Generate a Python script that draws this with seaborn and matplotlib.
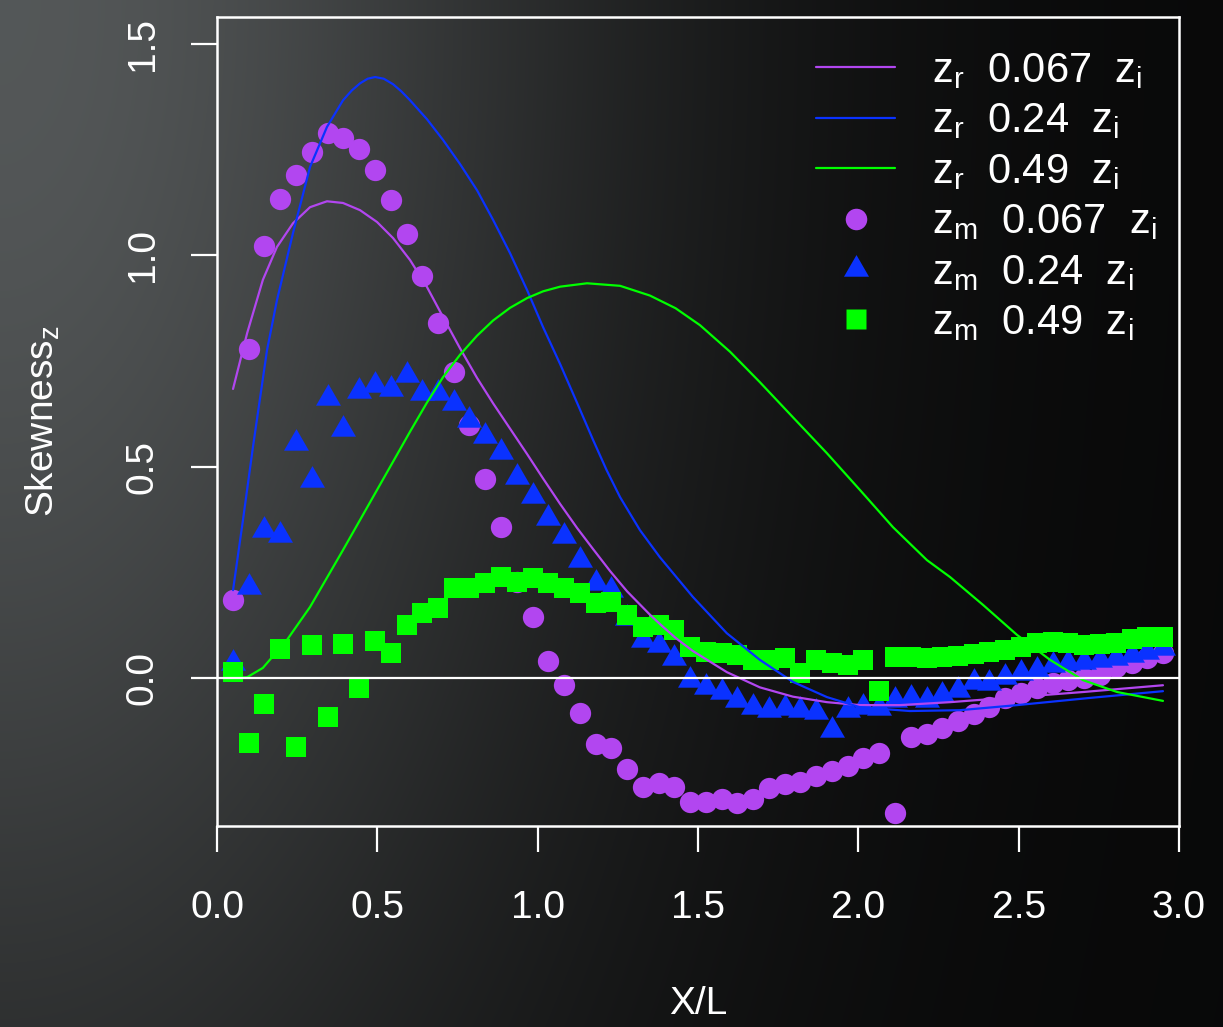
import numpy as np
import matplotlib
matplotlib.use("Agg")
import matplotlib.pyplot as plt
from matplotlib.path import Path
from matplotlib.lines import Line2D
import seaborn as sns

# ---------------- data ----------------
# measurement stations X/L (shared by the three point series)
x_meas = [0.050, 0.099, 0.148, 0.197, 0.247, 0.296, 0.345, 0.394, 0.443, 0.492,
          0.542, 0.591, 0.640, 0.689, 0.738, 0.787, 0.836, 0.886, 0.935, 0.984,
          1.033, 1.082, 1.131, 1.181, 1.230, 1.279, 1.328, 1.377, 1.426, 1.475,
          1.525, 1.574, 1.623, 1.672, 1.721, 1.770, 1.819, 1.869, 1.918, 1.967,
          2.016, 2.065, 2.114, 2.164, 2.213, 2.262, 2.311, 2.360, 2.409, 2.458,
          2.508, 2.557, 2.606, 2.655, 2.704, 2.753, 2.803, 2.852, 2.901, 2.950]

zm_067 = [0.185, 0.778, 1.022, 1.133, 1.190, 1.244, 1.289, 1.277, 1.251, 1.202,
          1.131, 1.050, 0.951, 0.840, 0.724, 0.599, 0.471, 0.357, 0.227, 0.144,
          0.040, -0.017, -0.083, -0.156, -0.166, -0.215, -0.258, -0.248, -0.258, -0.293,
          -0.293, -0.286, -0.296, -0.286, -0.260, -0.251, -0.246, -0.232, -0.220, -0.208,
          -0.189, -0.177, -0.319, -0.140, -0.132, -0.118, -0.102, -0.085, -0.069, -0.047,
          -0.035, -0.024, -0.012, -0.005, 0.000, 0.007, 0.026, 0.035, 0.047, 0.059]

zm_024 = [0.035, 0.215, 0.350, 0.338, 0.556, 0.468, 0.662, 0.589, 0.679, 0.693,
          0.684, 0.717, 0.674, 0.674, 0.651, 0.610, 0.573, 0.535, 0.476, 0.431,
          0.379, 0.336, 0.279, 0.225, 0.208, 0.142, 0.090, 0.078, 0.047, -0.005,
          -0.021, -0.033, -0.052, -0.069, -0.076, -0.071, -0.076, -0.080, -0.123, -0.076,
          -0.069, -0.071, -0.052, -0.047, -0.052, -0.040, -0.028, -0.009, -0.012, 0.002,
          0.012, 0.019, 0.031, 0.035, 0.038, 0.043, 0.047, 0.054, 0.062, 0.071]

zm_049 = [0.014, -0.154, -0.062, 0.069, -0.163, 0.078, -0.092, 0.080, -0.024, 0.088,
          0.059, 0.125, 0.154, 0.166, 0.213, 0.213, 0.225, 0.239, 0.227, 0.237,
          0.225, 0.213, 0.201, 0.177, 0.180, 0.149, 0.121, 0.125, 0.114, 0.073,
          0.062, 0.059, 0.054, 0.043, 0.043, 0.047, 0.012, 0.043, 0.035, 0.031,
          0.042, -0.030, 0.051, 0.050, 0.047, 0.050, 0.052, 0.057, 0.062, 0.066,
          0.073, 0.083, 0.085, 0.083, 0.078, 0.080, 0.083, 0.092, 0.097, 0.097]

# model curves
zr067_x = [0.050, 0.094, 0.143, 0.187, 0.237, 0.290, 0.343, 0.393, 0.446, 0.499,
           0.549, 0.602, 0.655, 0.705, 0.758, 0.811, 0.861, 0.914, 0.967, 1.017,
           1.070, 1.123, 1.173, 1.226, 1.279, 1.350, 1.381, 1.430, 1.484, 1.590,
           1.693, 1.796, 1.902, 2.005, 2.130, 2.286, 2.495, 2.701, 2.950]
zr067_y = [0.684, 0.816, 0.942, 1.020, 1.076, 1.114, 1.128, 1.124, 1.107, 1.079,
           1.041, 0.989, 0.925, 0.854, 0.780, 0.710, 0.650, 0.590, 0.530, 0.472,
           0.412, 0.355, 0.305, 0.253, 0.205, 0.150, 0.128, 0.095, 0.064, 0.014,
           -0.022, -0.044, -0.057, -0.064, -0.064, -0.057, -0.045, -0.033, -0.017]

zr024_x = [0.050, 0.081, 0.112, 0.156, 0.187, 0.237, 0.290, 0.343, 0.393, 0.420,
           0.446, 0.470, 0.493, 0.520, 0.549, 0.575, 0.602, 0.655, 0.705, 0.758,
           0.811, 0.861, 0.914, 0.967, 1.017, 1.070, 1.123, 1.173, 1.215, 1.257,
           1.319, 1.381, 1.484, 1.590, 1.693, 1.796, 1.902, 2.005, 2.161, 2.317,
           2.495, 2.722, 2.950]
zr024_y = [0.208, 0.374, 0.546, 0.776, 0.894, 1.053, 1.209, 1.304, 1.367, 1.390,
           1.407, 1.418, 1.422, 1.418, 1.405, 1.388, 1.367, 1.322, 1.273, 1.216,
           1.154, 1.084, 1.005, 0.918, 0.830, 0.743, 0.651, 0.563, 0.492, 0.428,
           0.350, 0.286, 0.192, 0.106, 0.043, -0.009, -0.045, -0.069, -0.078, -0.076,
           -0.064, -0.047, -0.031]

zr049_x = [0.050, 0.094, 0.143, 0.218, 0.290, 0.393, 0.499, 0.561, 0.602, 0.655,
           0.705, 0.758, 0.811, 0.861, 0.914, 0.967, 1.017, 1.070, 1.154, 1.257,
           1.350, 1.430, 1.506, 1.600, 1.693, 1.796, 1.902, 2.005, 2.108, 2.214,
           2.286, 2.389, 2.495, 2.598, 2.701, 2.807, 2.950]
zr049_y = [0.000, 0.002, 0.024, 0.090, 0.168, 0.303, 0.445, 0.528, 0.583, 0.652,
           0.712, 0.765, 0.810, 0.846, 0.876, 0.899, 0.915, 0.926, 0.934, 0.928,
           0.905, 0.875, 0.835, 0.772, 0.700, 0.617, 0.532, 0.445, 0.357, 0.279,
           0.239, 0.173, 0.102, 0.043, -0.005, -0.033, -0.054]

x_ticks = [0.0, 0.5, 1.0, 1.5, 2.0, 2.5, 3.0]
x_tick_labels = ["0.0", "0.5", "1.0", "1.5", "2.0", "2.5", "3.0"]
y_ticks = [0.0, 0.5, 1.0, 1.5]
y_tick_labels = ["0.0", "0.5", "1.0", "1.5"]

labels = [r"$\mathregular{z_r}$  0.067  $\mathregular{z_i}$",
          r"$\mathregular{z_r}$  0.24  $\mathregular{z_i}$",
          r"$\mathregular{z_r}$  0.49  $\mathregular{z_i}$",
          r"$\mathregular{z_m}$  0.067  $\mathregular{z_i}$",
          r"$\mathregular{z_m}$  0.24  $\mathregular{z_i}$",
          r"$\mathregular{z_m}$  0.49  $\mathregular{z_i}$"]

# ---------------- style ----------------
PURPLE = "#B246F0"
BLUE = "#0A32FF"
GREEN = "#00FF00"
FG = "white"

sns.set_theme(style="white")
plt.rcParams["font.family"] = ["Liberation Sans", "DejaVu Sans"]
plt.rcParams["mathtext.fontset"] = "custom"
plt.rcParams["mathtext.rm"] = "Liberation Sans"
plt.rcParams["mathtext.it"] = "Liberation Sans:italic"

W, H = 1223, 1027
fig = plt.figure(figsize=(W / 100, H / 100), dpi=100)

# dark gradient backdrop (light grey at top-left to black)
bg = fig.add_axes([0, 0, 1, 1], zorder=-10)
yy, xx = np.mgrid[0:H, 0:W]
v = 76 * np.exp(-((xx / 600.0) ** 2 + (yy / 1250.0) ** 2)) + 8
img = np.clip(np.dstack([v, v * 1.04, v * 1.05]) / 255.0, 0, 1)
bg.imshow(img, aspect="auto", extent=[0, 1, 0, 1], origin="upper")
bg.set_axis_off()

ax = fig.add_axes([217 / W, (H - 826) / H, (1179 - 217) / W, (826 - 17) / H])
ax.patch.set_alpha(0)

# triangle marker like R pch 17 (centroid at the data point)
tri = Path([(0, 1.555), (1.347, -0.778), (-1.347, -0.778), (0, 1.555)],
           [Path.MOVETO, Path.LINETO, Path.LINETO, Path.CLOSEPOLY])

sns.scatterplot(x=x_meas, y=zm_067, marker="o", s=235, color=PURPLE,
                linewidth=0, ax=ax, zorder=3)
sns.scatterplot(x=x_meas, y=zm_024, marker=tri, s=430, color=BLUE,
                linewidth=0, ax=ax, zorder=4)
sns.scatterplot(x=x_meas, y=zm_049, marker="s", s=190, color=GREEN,
                linewidth=0, ax=ax, zorder=5)

sns.lineplot(x=zr067_x, y=zr067_y, color=PURPLE, linewidth=1.6, sort=False,
             estimator=None, ax=ax, zorder=6)
sns.lineplot(x=zr024_x, y=zr024_y, color=BLUE, linewidth=1.6, sort=False,
             estimator=None, ax=ax, zorder=6)
sns.lineplot(x=zr049_x, y=zr049_y, color=GREEN, linewidth=1.6, sort=False,
             estimator=None, ax=ax, zorder=6)

ax.axhline(0, color=FG, linewidth=1.6, zorder=7)

ax.set_xlim(0, 3)
ax.set_ylim(-0.350, 1.564)
ax.set_xticks(x_ticks)
ax.set_xticklabels(x_tick_labels)
ax.set_yticks(y_ticks)
ax.set_yticklabels(y_tick_labels)

for s in ax.spines.values():
    s.set_visible(True)
    s.set_color(FG)
    s.set_linewidth(1.8)

ax.tick_params(axis="both", direction="out", length=19, width=1.6,
               colors=FG, labelsize=28, bottom=True, left=True)
ax.tick_params(axis="x", pad=27)
ax.tick_params(axis="y", pad=34.5, labelrotation=90)
for lbl in ax.get_yticklabels():
    lbl.set_ha("center")
    lbl.set_va("center")

ax.set_xlabel("X/L", color=FG, fontsize=28)
ax.set_ylabel(r"Skewness$\mathregular{_z}$", color=FG, fontsize=28)
ax.xaxis.label.set_va("center")
ax.xaxis.set_label_coords(0.5, -(1004 - 826) / 809)
ax.yaxis.label.set_ha("center")
ax.yaxis.label.set_va("center")
ax.yaxis.set_label_coords(-(217 - 43) / 962, 0.5)

handles = [
    Line2D([], [], color=PURPLE, lw=1.6),
    Line2D([], [], color=BLUE, lw=1.6),
    Line2D([], [], color=GREEN, lw=1.6),
    Line2D([], [], ls="none", marker="o", ms=15.5, color=PURPLE, mec="none"),
    Line2D([], [], ls="none", marker=tri, ms=20.8, color=BLUE, mec="none"),
    Line2D([], [], ls="none", marker="s", ms=13.9, color=GREEN, mec="none"),
]
leg = ax.legend(handles, labels, loc="upper left",
                bbox_to_anchor=((816 - 217) / 962, (826 - 51) / 809),
                frameon=False, fontsize=30, handlelength=1.9,
                handletextpad=0.89, labelspacing=0.25, borderpad=0,
                borderaxespad=0, labelcolor=FG)

fig.savefig("out.png", dpi=100, facecolor="black")
